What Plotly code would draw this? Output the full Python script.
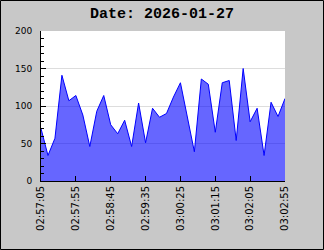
import plotly.graph_objects as go
import pandas as pd

title_text = "Date: 2026-01-27"
start_time = "2026-01-27 02:57:05"
step_seconds = 10
values = [70, 34, 57, 141, 107, 114, 88, 46, 93, 114,
          75, 63, 81, 46, 104, 51, 97, 85, 90, 112,
          131, 86, 39, 136, 129, 65, 131, 134, 54, 150,
          79, 97, 34, 105, 86, 110]
times = pd.date_range(start=start_time, periods=len(values), freq=f"{step_seconds}s")
y_ticks = [0, 50, 100, 150, 200]

W, H = 324, 250
L, R, T, B = 41, 39, 31, 69
pw, ph = W - L - R, H - T - B

fig = go.Figure()
fig.add_trace(go.Scatter(
    x=times, y=values, mode="lines", fill="tozeroy",
    line=dict(color="#0000ff", width=1),
    fillcolor="rgba(0,0,255,0.6)",
    hoverinfo="skip",
))

fig.update_layout(
    width=W, height=H,
    margin=dict(l=L, r=R, t=T, b=B, pad=0),
    paper_bgcolor="#c8c8c8",
    plot_bgcolor="#ffffff",
    showlegend=False,
    title=dict(text=title_text, x=0.5, xref="container", xanchor="center",
               y=1 - 13 / H, yref="container", yanchor="middle",
               font=dict(family="Liberation Mono", size=15, color="#000000", weight="bold")),
    font=dict(family="DejaVu Sans", color="#000000"),
)

fig.update_xaxes(
    type="date",
    range=[times[0], times[-1]],
    tick0=times[0], dtick=50000,
    tickformat="%H:%M:%S",
    tickangle=-90,
    ticks="inside", ticklen=5, tickcolor="#000000",
    showline=True, linecolor="#000000", linewidth=1,
    showgrid=False, zeroline=False,
    tickfont=dict(family="DejaVu Sans", size=10, color="#000000"),
)
fig.update_yaxes(
    range=[0, 200],
    tickvals=y_ticks,
    ticks="inside", ticklen=5, tickcolor="#000000",
    minor=dict(dtick=10, ticks="inside", ticklen=3, tickcolor="#000000", showgrid=False),
    showline=True, linecolor="#000000", linewidth=1,
    showgrid=True, gridcolor="#dddddd", gridwidth=1,
    zeroline=False,
    ticklabelstandoff=6,
    tickfont=dict(family="DejaVu Sans", size=9, color="#000000"),
)

# outer frame around the whole image
fig.add_shape(type="rect", xref="paper", yref="paper",
              x0=-(L - 0.5) / pw, x1=1 + (R - 0.5) / pw,
              y0=-(B - 0.5) / ph, y1=1 + (T - 0.5) / ph,
              line=dict(color="#000000", width=1), fillcolor="rgba(0,0,0,0)",
              layer="above")

fig.write_html("out.html")
